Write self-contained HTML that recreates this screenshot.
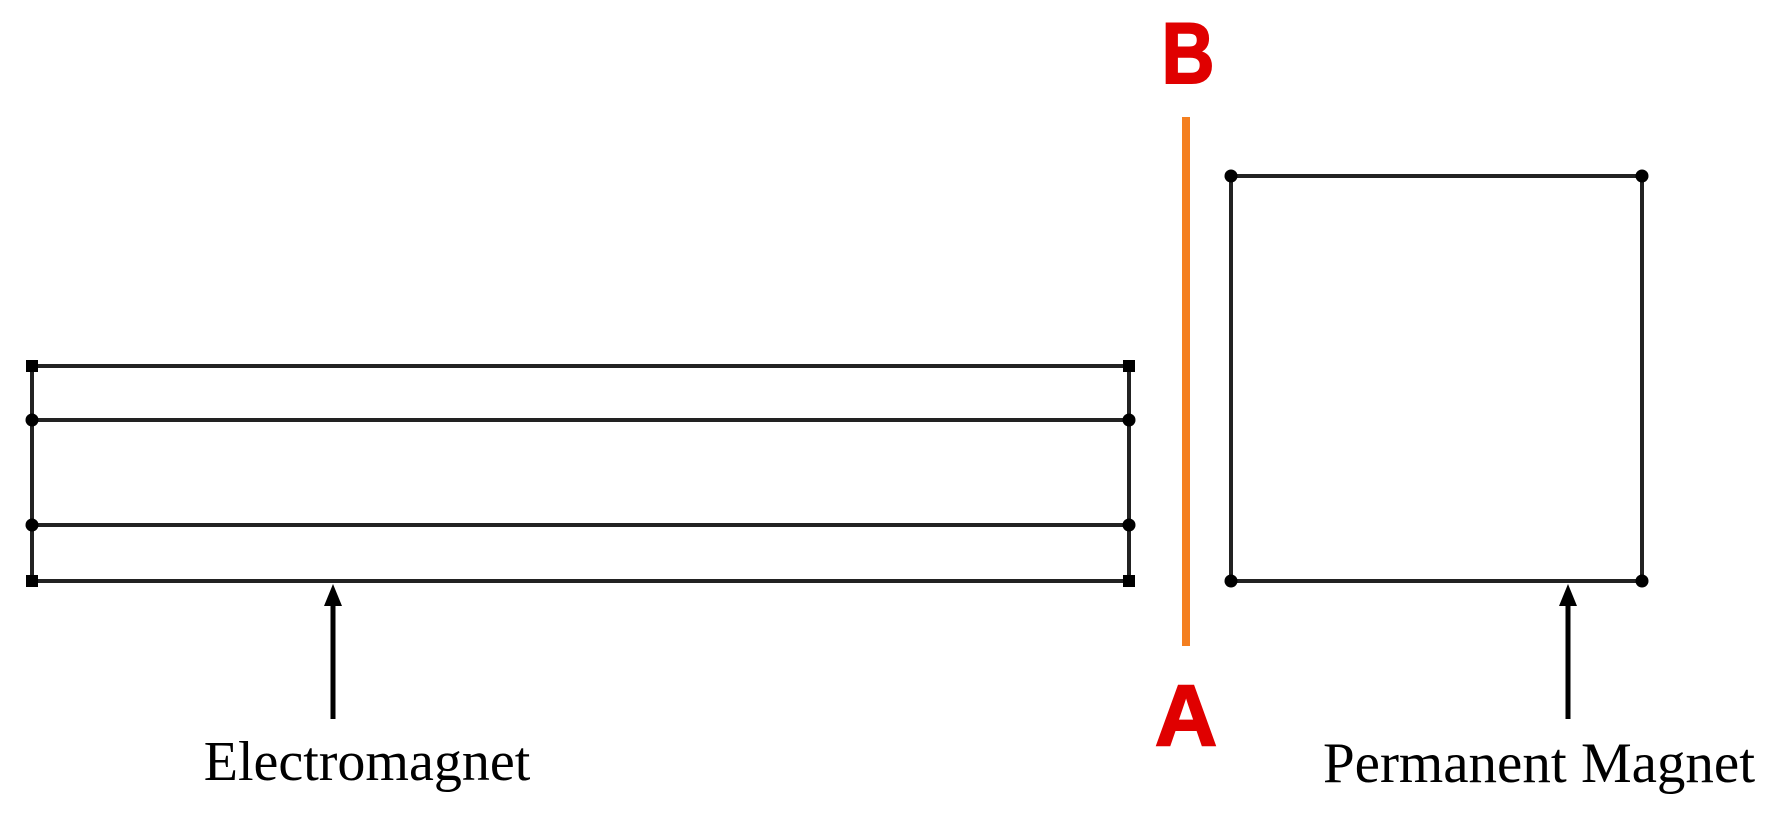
<!DOCTYPE html>
<html><head><style>
html,body{margin:0;padding:0;background:#fff;}
svg{display:block;}
</style></head><body>
<svg width="1775" height="815" viewBox="0 0 1775 815" xmlns="http://www.w3.org/2000/svg">
<g stroke="#222" stroke-width="4" fill="none">
<line x1="32" y1="366" x2="1129" y2="366"/>
<line x1="32" y1="420" x2="1129" y2="420"/>
<line x1="32" y1="525" x2="1129" y2="525"/>
<line x1="32" y1="581" x2="1129" y2="581"/>
<line x1="32" y1="366" x2="32" y2="581"/>
<line x1="1129" y1="366" x2="1129" y2="581"/>
<rect x="1231" y="176" width="411" height="405"/>
</g>
<g stroke="#000" stroke-width="5">
<line x1="333" y1="719" x2="333" y2="600"/>
<line x1="1568" y1="719" x2="1568" y2="600"/>
</g>
<g fill="#000">
<rect x="26" y="360" width="12" height="12"/>
<rect x="1123" y="360" width="12" height="12"/>
<circle cx="32" cy="420" r="6.5"/><circle cx="1129" cy="420" r="6.5"/>
<circle cx="32" cy="525" r="6.5"/><circle cx="1129" cy="525" r="6.5"/>
<rect x="26" y="575" width="12" height="12"/>
<rect x="1123" y="575" width="12" height="12"/>
<circle cx="1231" cy="176" r="6.5"/><circle cx="1642" cy="176" r="6.5"/>
<circle cx="1231" cy="581" r="6.5"/><circle cx="1642" cy="581" r="6.5"/>
<polygon points="333,584 324,606 342,606"/>
<polygon points="1568,584 1559,606 1577,606"/>
</g>
<line x1="1186" y1="117" x2="1186" y2="646" stroke="#f47f20" stroke-width="8"/>
<text x="1188" y="83" text-anchor="middle" font-family="Liberation Sans, sans-serif" font-weight="bold" font-size="86" fill="#e00000" stroke="#e00000" stroke-width="2" transform="translate(1188,0) scale(0.85,1) translate(-1188,0)">B</text>
<text x="1186" y="745" text-anchor="middle" font-family="Liberation Sans, sans-serif" font-weight="bold" font-size="86" fill="#e00000" stroke="#e00000" stroke-width="2">A</text>
<text x="367" y="780" text-anchor="middle" font-family="Liberation Serif, serif" font-size="56" fill="#000">Electromagnet</text>
<text x="1539" y="782" text-anchor="middle" font-family="Liberation Serif, serif" font-size="57" fill="#000">Permanent Magnet</text>
</svg>
</body></html>
